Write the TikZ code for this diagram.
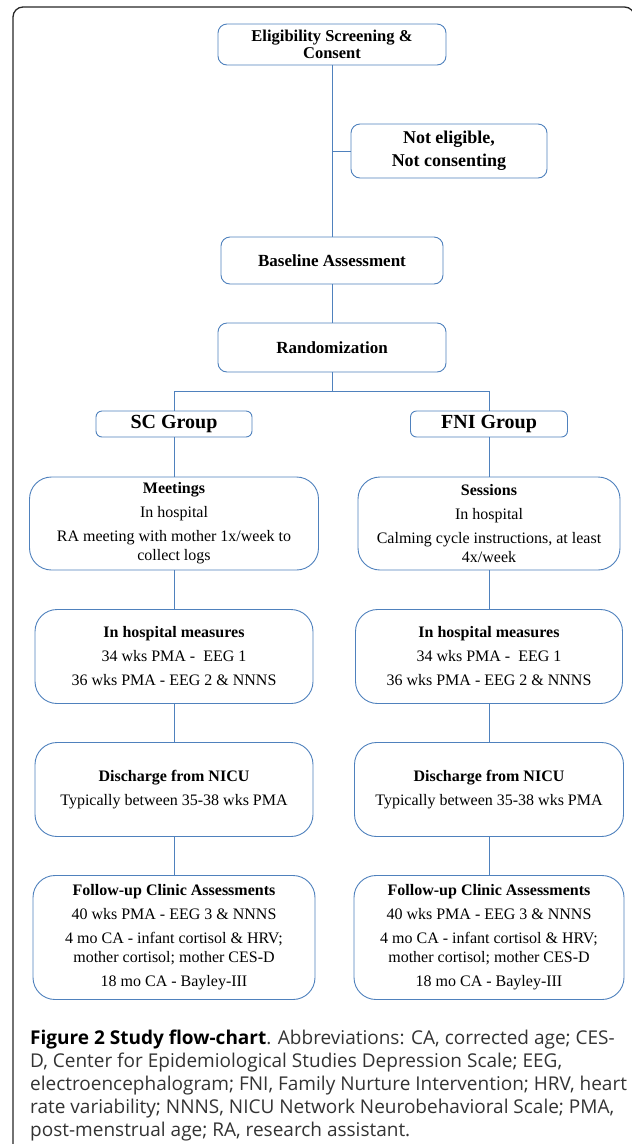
\documentclass[tikz,border=0pt]{standalone}
\usepackage{fontspec}
\setmainfont{Liberation Serif}
\newfontfamily\capfont{Open Sans}
\usepackage{xcolor}
\usepackage{tikz}
\usetikzlibrary{positioning, calc}

\definecolor{boxblue}{RGB}{79,129,189}

\tikzset{
  box/.style={rectangle, draw=boxblue, line width=0.9pt, rounded corners=9pt, inner sep=0pt, align=center, fill=white},
  headbox/.style={box, font=\bfseries\fontsize{17}{18}\selectfont},
  grpbox/.style={box, rounded corners=6pt, font=\bfseries\fontsize{20}{22}\selectfont},
  bigbox/.style={box, rounded corners=22pt, font=\fontsize{16}{19}\selectfont},
  link/.style={draw=boxblue, line width=0.9pt},
  captext/.style={inner sep=0pt, align=left, anchor=north west, text=black!80, font=\capfont\fontsize{19}{23}\selectfont}
}

\begin{document}
\begin{tikzpicture}[x=1pt, y=1pt, node distance=133pt]
\useasboundingbox (0,0) rectangle (632,-1144);
\clip (0,0) rectangle (632,-1144);

\draw[black!85, line width=1.3pt, rounded corners=10pt] (13,-7) rectangle (634.5,-1170);

\node (elig)[headbox, minimum width=228pt, minimum height=41pt, font=\bfseries\fontsize{16.5}{17}\selectfont] at (332,-44.5) {Eligibility Screening \&\\Consent};

\node (notelig)[headbox, right of = elig, minimum width=196pt, minimum height=54pt, xshift=-16pt, yshift=-106.5pt, font=\bfseries\fontsize{18}{23}\selectfont] {Not eligible,\\Not consenting};

\node (base)[headbox, below of = elig, minimum width=222pt, minimum height=47pt, yshift=-83pt] {Baseline Assessment};
\node (rand)[headbox, below of = base, minimum width=228pt, minimum height=49pt, yshift=46pt] {Randomization};

\node (sc)[grpbox, below of = rand, minimum width=156pt, minimum height=26pt, xshift=-158pt, yshift=56.5pt] {SC Group};
\node (fni)[grpbox, right of = sc, minimum width=157pt, minimum height=26pt, xshift=182pt] {FNI Group};

% SC arm
\node (meet)[bigbox, below of = sc, minimum width=289pt, minimum height=93pt, yshift=33.5pt] {\textbf{Meetings}\\[5pt]In hospital\\[5pt]RA meeting with mother 1x/week to\\collect logs};
\node (hospL)[bigbox, below of = meet, minimum width=278pt, minimum height=94pt] {\textbf{In hospital measures}\\[5pt]34 wks PMA -\ \ EEG 1\\[5pt]36 wks PMA - EEG 2 \& NNNS};
\node (dischL)[bigbox, below of = hospL, minimum width=278pt, minimum height=94pt] {\textbf{Discharge from NICU}\\[5pt]Typically between 35-38 wks PMA};
\node (folL)[bigbox, below of = dischL, minimum width=282pt, minimum height=124pt, yshift=-15pt] {\textbf{Follow-up Clinic Assessments}\\[5pt]40 wks PMA - EEG 3 \& NNNS\\[5pt]4 mo CA - infant cortisol \& HRV;\\mother cortisol; mother CES-D\\[5pt]18 mo CA - Bayley-III};

% FNI arm
\node (sess)[bigbox, below of = fni, minimum width=262pt, minimum height=93pt, yshift=33.5pt] {\textbf{Sessions}\\[5pt]In hospital\\[5pt]Calming cycle instructions, at least\\4x/week};
\node (hospR)[bigbox, below of = sess, minimum width=267pt, minimum height=94pt] {\textbf{In hospital measures}\\[5pt]34 wks PMA -\ \ EEG 1\\[5pt]36 wks PMA - EEG 2 \& NNNS};
\node (dischR)[bigbox, below of = hospR, minimum width=269pt, minimum height=94pt] {\textbf{Discharge from NICU}\\[5pt]Typically between 35-38 wks PMA};
\node (folR)[bigbox, below of = dischR, minimum width=270pt, minimum height=124pt, yshift=-15pt] {\textbf{Follow-up Clinic Assessments}\\[5pt]40 wks PMA - EEG 3 \& NNNS\\[5pt]4 mo CA - infant cortisol \& HRV;\\mother cortisol; mother CES-D\\[5pt]18 mo CA - Bayley-III};

\coordinate (split) at ($(rand.south)+(0,-19)$);

\draw[link] (elig) -- (base);
\draw[link] (notelig.west) -- (notelig.west -| elig.south);
\draw[link] (base) -- (rand);
\draw[link] (rand) -- (split);
\draw[link] (split) -| (sc);
\draw[link] (split) -| (fni);

\draw[link] (sc) -- (meet);
\draw[link] (meet) -- (hospL);
\draw[link] (hospL) -- (dischL);
\draw[link] (dischL) -- (folL);

\draw[link] (fni) -- (sess);
\draw[link] (sess) -- (hospR);
\draw[link] (hospR) -- (dischR);
\draw[link] (dischR) -- (folR);

\node (caption)[captext] at (30,-1030) {{\color{black}\bfseries Figure 2 Study flow-chart}. Abbreviations: CA, corrected age; CES-\\D, Center for Epidemiological Studies Depression Scale; EEG,\\electroencephalogram; FNI, Family Nurture Intervention; HRV, heart\\rate variability; NNNS, NICU Network Neurobehavioral Scale; PMA,\\post-menstrual age; RA, research assistant.};

\end{tikzpicture}
\end{document}
